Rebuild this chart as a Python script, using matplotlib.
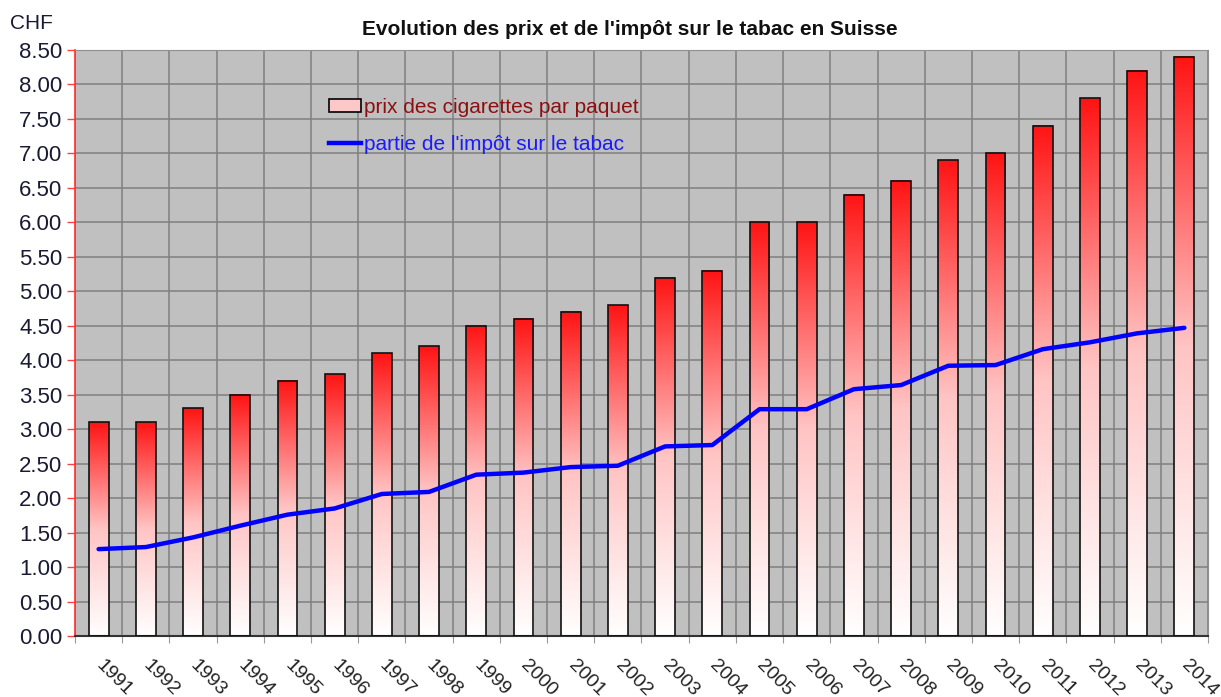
import matplotlib
matplotlib.use("Agg")
import matplotlib.pyplot as plt
import numpy as np
from matplotlib.colors import LinearSegmentedColormap
from matplotlib.patches import Patch
from matplotlib.lines import Line2D

plt.rcParams["font.family"] = ["Liberation Sans", "DejaVu Sans"]

years = [str(y) for y in range(1991, 2015)]
prix = [3.10, 3.10, 3.30, 3.50, 3.70, 3.80, 4.10, 4.20, 4.50, 4.60, 4.70, 4.80,
        5.20, 5.30, 6.00, 6.00, 6.40, 6.60, 6.90, 7.00, 7.40, 7.80, 8.20, 8.40]
impot = [1.26, 1.29, 1.43, 1.60, 1.76, 1.85, 2.06, 2.09, 2.34, 2.37, 2.45, 2.47,
         2.75, 2.77, 3.29, 3.29, 3.58, 3.64, 3.92, 3.93, 4.16, 4.26, 4.39, 4.47]
yticks = np.arange(0, 8.51, 0.5)

fig = plt.figure(figsize=(12.21, 6.97), dpi=100)
ax = fig.add_axes([75 / 1221, 1 - 636 / 697, (1208 - 75) / 1221, 586 / 697])
ax.set_facecolor("#c0c0c0")

x = np.arange(len(years))
width = 0.42
cmap = LinearSegmentedColormap.from_list("wr", ["#ffffff", "#ffc4c4", "#ff1414"])
grad = np.linspace(0, 1, 256).reshape(-1, 1)
for xi, h in zip(x, prix):
    ax.imshow(grad, extent=[xi - width / 2, xi + width / 2, 0, h], cmap=cmap,
              aspect="auto", origin="lower", zorder=2, interpolation="bilinear")
ax.bar(x, prix, width=width, facecolor="none", edgecolor="#111111", linewidth=1.2, zorder=3)
ax.plot(x, impot, color="#0000ff", linewidth=3.2, zorder=4, solid_capstyle="round")

ax.set_xlim(-0.5, len(years) - 0.5)
ax.set_ylim(0, 8.5)

# grid on category boundaries, labels on category centres
ax.set_xticks(np.arange(len(years) + 1) - 0.5)
ax.set_xticklabels([])
ax.set_xticks(x, minor=True)
ax.set_xticklabels(years, minor=True, rotation=-45, ha="left", va="center",
                   rotation_mode="anchor", fontsize=14, color="#222222")
ax.tick_params(axis="x", which="minor", length=0, pad=19)
ax.tick_params(axis="x", which="major", length=5, color="#999999", direction="out")
ax.set_yticks(yticks)
ax.set_yticklabels([f"{v:.2f}" for v in yticks], fontsize=16, color="#1a1a33")
ax.tick_params(axis="y", length=6, color="#ff4040", direction="out", width=1, pad=3)
ax.grid(True, which="major", color="#808080", linewidth=1.1, zorder=0)
ax.set_axisbelow(True)

ax.spines["left"].set_color("#ff3030")
ax.spines["left"].set_linewidth(1.2)
ax.spines["top"].set_color("#909090")
ax.spines["right"].set_color("#909090")
ax.spines["bottom"].set_color("#333333")
ax.spines["bottom"].set_linewidth(1.5)

handles = [Patch(facecolor="#ffc8c8", edgecolor="black", linewidth=1.2),
           Line2D([0], [0], color="#0000ff", linewidth=3.2)]
leg = ax.legend(handles, ["prix des cigarettes par paquet", "partie de l'impôt sur le tabac"],
                loc="upper left", bbox_to_anchor=(0.217, 0.932), frameon=False,
                fontsize=15, handlelength=1.55, handleheight=0.6, handletextpad=0.1,
                labelspacing=0.85, borderaxespad=0)
leg.get_texts()[0].set_color("#8b1010")
leg.get_texts()[1].set_color("#1a1aff")

fig.text(0.516, 0.957, "Evolution des prix et de l'impôt sur le tabac en Suisse",
         ha="center", va="center", fontsize=15, fontweight="bold", color="#111111")
fig.text(0.008, 0.966, "CHF", ha="left", va="center", fontsize=15, color="#1a1a33")

fig.savefig("out.png", dpi=100)
